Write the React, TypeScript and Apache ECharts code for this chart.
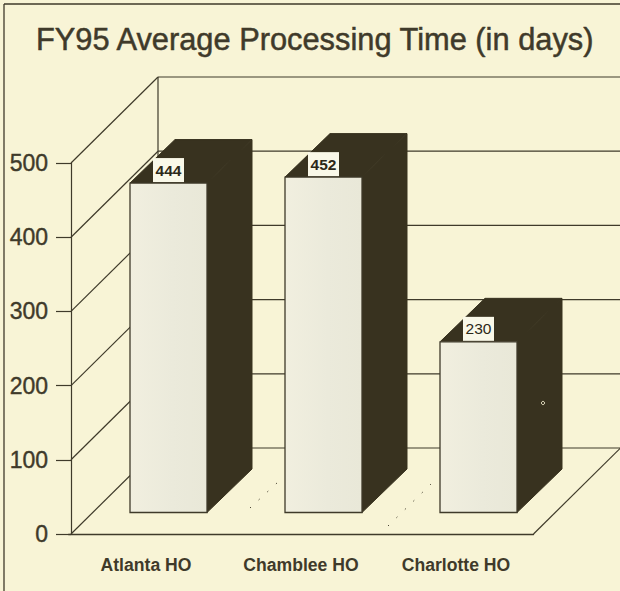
import React, { useEffect, useRef } from "react";
import * as echarts from "echarts";

const titleText = "FY95 Average Processing Time (in days)";
const categories = ["Atlanta HO", "Chamblee HO", "Charlotte HO"];
const processingDays = [444, 452, 230];
const labelWeights = ["bold", "bold", "normal"];
const yTicks = [0, 100, 200, 300, 400, 500];

const PAPER = "#f8f4d6";
const INK = "#3f3a2a";
const DARK = "#38321f";
const LABEL_BG = "#f9f8e8";
const FONT = '"Liberation Sans", Arial, sans-serif';

const WALL_DX = 87;
const WALL_DY = 86;
const BAR_DX = 45;
const BAR_DY = 43.5;
const BAR_SHIFT_X = 22.5;
const BAR_SHIFT_Y = 21.5;
const AXIS_SHIFT = 2.5;

const FACE = {
  type: "linear",
  x: 0,
  y: 0,
  x2: 1,
  y2: 0,
  colorStops: [
    { offset: 0, color: "#f1efdf" },
    { offset: 0.55, color: "#ebeadb" },
    { offset: 1, color: "#e9e8d8" },
  ],
};

function renderWall(params: any, api: any) {
  const cs = params.coordSys;
  const left = cs.x + AXIS_SHIFT;
  const right = cs.x + cs.width;
  const y = api.coord([0, api.value(1)])[1];
  const lineStyle = { stroke: INK, lineWidth: 1.2, fill: "none" };
  const children: any[] = [
    { type: "line", shape: { x1: left, y1: y, x2: left + WALL_DX, y2: y - WALL_DY }, style: lineStyle },
    { type: "line", shape: { x1: left + WALL_DX, y1: y - WALL_DY, x2: right + WALL_DX, y2: y - WALL_DY }, style: lineStyle },
  ];
  if (params.dataIndex === 0) {
    children.push(
      { type: "line", shape: { x1: left + WALL_DX, y1: y - WALL_DY, x2: left + WALL_DX, y2: cs.y - WALL_DY }, style: lineStyle },
      { type: "line", shape: { x1: right, y1: y, x2: right + WALL_DX, y2: y - WALL_DY }, style: lineStyle },
    );
  }
  return { type: "group", children };
}

function renderBar(params: any, api: any) {
  const value = api.value(1);
  const top = api.coord([api.value(0), value]);
  const base = api.coord([api.value(0), 0]);
  const band = api.size([1, 0])[0];
  const w = band * 0.5 - 0.5;
  const x0 = top[0] - w / 2 + BAR_SHIFT_X;
  const x1 = x0 + w;
  const yTop = top[1] - BAR_SHIFT_Y;
  const yBase = base[1] - BAR_SHIFT_Y;
  const cx = x0 + w / 2;
  const dark = { fill: DARK, stroke: DARK, lineWidth: 1 };
  return {
    type: "group",
    children: [
      {
        type: "polygon",
        shape: { points: [[x0, yTop], [x0 + BAR_DX, yTop - BAR_DY], [x1 + BAR_DX, yTop - BAR_DY], [x1, yTop]] },
        style: dark,
      },
      {
        type: "polygon",
        shape: { points: [[x1, yTop], [x1 + BAR_DX, yTop - BAR_DY], [x1 + BAR_DX, yBase - BAR_DY], [x1, yBase]] },
        style: dark,
      },
      {
        type: "rect",
        shape: { x: x0, y: yTop, width: w, height: yBase - yTop },
        style: { fill: FACE, stroke: INK, lineWidth: 1.3 },
      },
      {
        type: "rect",
        shape: { x: cx - 15.5, y: yTop - 25, width: 31, height: 24 },
        style: { fill: LABEL_BG, stroke: "none" },
      },
      {
        type: "text",
        x: cx,
        y: yTop - 13,
        style: {
          text: String(value),
          fill: "#2c2818",
          font: `${labelWeights[params.dataIndex]} 15.5px ${FONT}`,
          textAlign: "center",
          textVerticalAlign: "middle",
        },
      },
    ],
  };
}

export default function App() {
  const ref = useRef<HTMLDivElement>(null);
  useEffect(() => {
    const chart = echarts.init(ref.current!, undefined, { renderer: "svg" });
    chart.setOption({
      animation: false,
      backgroundColor: PAPER,
      title: {
        text: titleText,
        left: 31,
        top: 19,
        textStyle: {
          color: INK,
          fontFamily: FONT,
          fontWeight: "normal",
          fontSize: 30.8,
          textBorderColor: INK,
          textBorderWidth: 0.5,
        },
      },
      grid: { left: 68.5, right: 86.5, top: 163, bottom: 57 },
      xAxis: {
        type: "category",
        data: categories,
        axisLine: { lineStyle: { color: INK, width: 1.3 } },
        axisTick: { alignWithLabel: true, length: 12, lineStyle: { color: INK, width: 1.2 } },
        axisLabel: { color: INK, fontFamily: FONT, fontWeight: "bold", fontSize: 17.6, margin: 22 },
      },
      yAxis: {
        type: "value",
        min: 0,
        max: 500,
        interval: 100,
        offset: -AXIS_SHIFT,
        splitLine: { show: false },
        axisLine: { show: true, lineStyle: { color: INK, width: 1.2 } },
        axisTick: { show: true, length: 15, lineStyle: { color: INK, width: 1.2 } },
        axisLabel: {
          color: INK,
          fontFamily: FONT,
          fontSize: 23,
          margin: 23,
          textBorderColor: INK,
          textBorderWidth: 0.4,
        },
      },
      graphic: [
        { type: "line", silent: true, shape: { x1: 4, y1: 4, x2: 620, y2: 4 }, style: { stroke: INK, lineWidth: 1.3 } },
        { type: "line", silent: true, shape: { x1: 4, y1: 4, x2: 4, y2: 591 }, style: { stroke: INK, lineWidth: 1.3 } },
        { type: "line", silent: true, z: 5, shape: { x1: 250, y1: 508, x2: 278, y2: 482 }, style: { stroke: INK, lineWidth: 1, lineDash: [1.3, 10.5] } },
        { type: "line", silent: true, z: 5, shape: { x1: 388, y1: 526, x2: 431, y2: 484 }, style: { stroke: INK, lineWidth: 1, lineDash: [1.3, 10.5] } },
        { type: "circle", silent: true, z: 5, shape: { cx: 543, cy: 403, r: 1.6 }, style: { fill: DARK, stroke: PAPER, lineWidth: 0.9 } },
      ],
      series: [
        {
          type: "custom",
          name: "wall",
          z: 1,
          silent: true,
          renderItem: renderWall,
          data: yTicks.map((t) => [0, t]),
        },
        {
          type: "custom",
          name: "Processing days",
          z: 2,
          silent: true,
          renderItem: renderBar,
          data: processingDays.map((v, i) => [i, v]),
        },
      ],
    });
    return () => chart.dispose();
  }, []);
  return <div ref={ref} style={{ position: "absolute", left: 0, top: 0, width: 620, height: 591 }} />;
}
